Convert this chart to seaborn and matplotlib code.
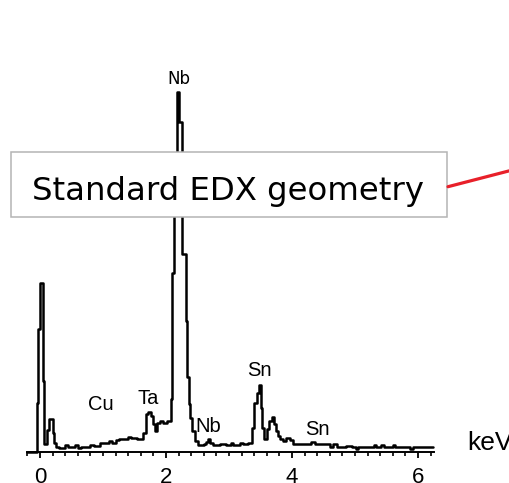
import matplotlib
matplotlib.use("Agg")
import matplotlib.pyplot as plt
from matplotlib.patches import Rectangle
from matplotlib.lines import Line2D
from matplotlib.ticker import FixedLocator
import numpy as np
import pandas as pd
import seaborn as sns

# EDX spectrum: channel edges (keV) and counts (arb. units), step-wise
energy_kev = [
    -0.20, -0.05, -0.035, 0.005, 0.053, 0.068, 0.11, 0.15, 0.20, 0.23,
    0.26, 0.30, 0.40, 0.44, 0.55, 0.60, 0.65, 0.80, 0.86, 0.95,
    1.10, 1.14, 1.20, 1.25, 1.40, 1.45, 1.535, 1.63, 1.678, 1.72,
    1.762, 1.80, 1.825, 1.852, 1.905, 1.96, 2.01, 2.075, 2.10, 2.12,
    2.17, 2.206, 2.26, 2.313, 2.34, 2.36, 2.385, 2.41, 2.46, 2.51,
    2.60, 2.64, 2.66, 2.70, 2.75, 2.85, 2.95, 3.03, 3.07, 3.18,
    3.22, 3.30, 3.36, 3.40, 3.44, 3.47, 3.50, 3.53, 3.56, 3.61,
    3.64, 3.68, 3.71, 3.75, 3.77, 3.81, 3.86, 3.91, 3.97, 4.02,
    4.30, 4.36, 4.60, 4.65, 4.72, 4.85, 4.95, 5.02, 5.05, 5.30,
    5.34, 5.42, 5.46, 5.60, 5.64, 5.88, 5.92, 6.24,
]
counts = [
    0, 49, 123, 169, 71, 8, 22, 33, 19, 9,
    5, 4, 7, 5, 7, 4, 5, 7, 6, 9,
    11, 9, 12, 13, 15, 14, 13, 19, 38, 40,
    36, 28, 21, 29, 31, 29, 31, 53, 179, 290,
    360, 330, 198, 131, 75, 48, 34, 21, 11, 7,
    8, 10, 13, 9, 7, 8, 7, 9, 7, 9,
    8, 9, 24, 49, 59, 67, 44, 24, 13, 23,
    31, 35, 28, 21, 16, 13, 11, 14, 12, 8,
    10, 8, 5, 8, 5, 6, 5, 3, 5, 7,
    5, 7, 5, 7, 5, 3, 5, 5,
]

# Element labels and where they sit (keV, counts at text baseline)
line_labels = ["Nb", "Cu", "Ta", "Nb", "Sn", "Sn"]
label_kev = [2.206, 0.963, 1.714, 2.667, 3.476, 4.397]
label_counts = [368, 42, 48, 20, 75, 16.5]

major_ticks = [0, 2, 4, 6]
major_labels = ["0", "2", "4", "6"]

sns.set_theme(style="white")
plt.rcParams["font.family"] = ["Liberation Sans", "DejaVu Sans"]

W, H = 509, 483
fig = plt.figure(figsize=(W / 100, H / 100), dpi=100)
axis_px = 451.5
ax = fig.add_axes([0, (H - axis_px) / H, 1, axis_px / H])
ax.set_xlim(-40 / 63, (W - 40) / 63)
ax.set_ylim(0, axis_px)

df = pd.DataFrame({"energy": energy_kev, "counts": counts})
sns.lineplot(data=df, x="energy", y="counts", ax=ax, color="black",
             linewidth=1.8, drawstyle="steps-post", estimator=None,
             sort=False, clip_on=False)

sns.despine(ax=ax, left=True)
ax.spines["bottom"].set_bounds(-0.2, 6.25)
ax.spines["bottom"].set_linewidth(1.4)
ax.spines["bottom"].set_color("black")
ax.set_yticks([])
ax.set_xticks(major_ticks)
ax.set_xticklabels(major_labels)
minor = [round(v, 1) for v in np.arange(-0.2, 6.21, 0.2)
         if abs(v - round(v / 2) * 2) > 1e-6]
ax.xaxis.set_minor_locator(FixedLocator(minor))
ax.tick_params(axis="x", which="major", bottom=True, direction="out",
               length=4.3, width=1.3, color="black", labelsize=16,
               pad=7.2, labelcolor="black")
ax.tick_params(axis="x", which="minor", bottom=True, direction="out",
               length=2.9, width=1.2, color="black")
ax.set_xlabel("")
ax.set_ylabel("")

for i, (txt, xk, yc) in enumerate(zip(line_labels, label_kev, label_counts)):
    if i == 0:
        ax.text(xk, yc, txt, ha="center", va="baseline", fontsize=12,
                family="DejaVu Sans", color="black")
    else:
        ax.text(xk, yc, txt, ha="center", va="baseline", fontsize=14.5,
                color="black")

ax.text(6.778, 1.5, "keV", ha="left", va="baseline", fontsize=19,
        color="black", clip_on=False)

# Caption box and pointer line
fig.add_artist(Rectangle((11 / W, (H - 217) / H), 436 / W, 65 / H,
                         transform=fig.transFigure, facecolor="white",
                         edgecolor="#b4b4b4", linewidth=1.1, zorder=5))
fig.text(228 / W, (H - 200) / H, "Standard EDX geometry", ha="center",
         va="baseline", fontsize=23.3, family="DejaVu Sans", color="black",
         zorder=6)
fig.add_artist(Line2D([448 / W, 1.0], [(H - 186.7) / H, (H - 170.9) / H],
                      transform=fig.transFigure, color="#e8202a",
                      linewidth=2.3, zorder=6))

fig.savefig("out.png", dpi=100)
